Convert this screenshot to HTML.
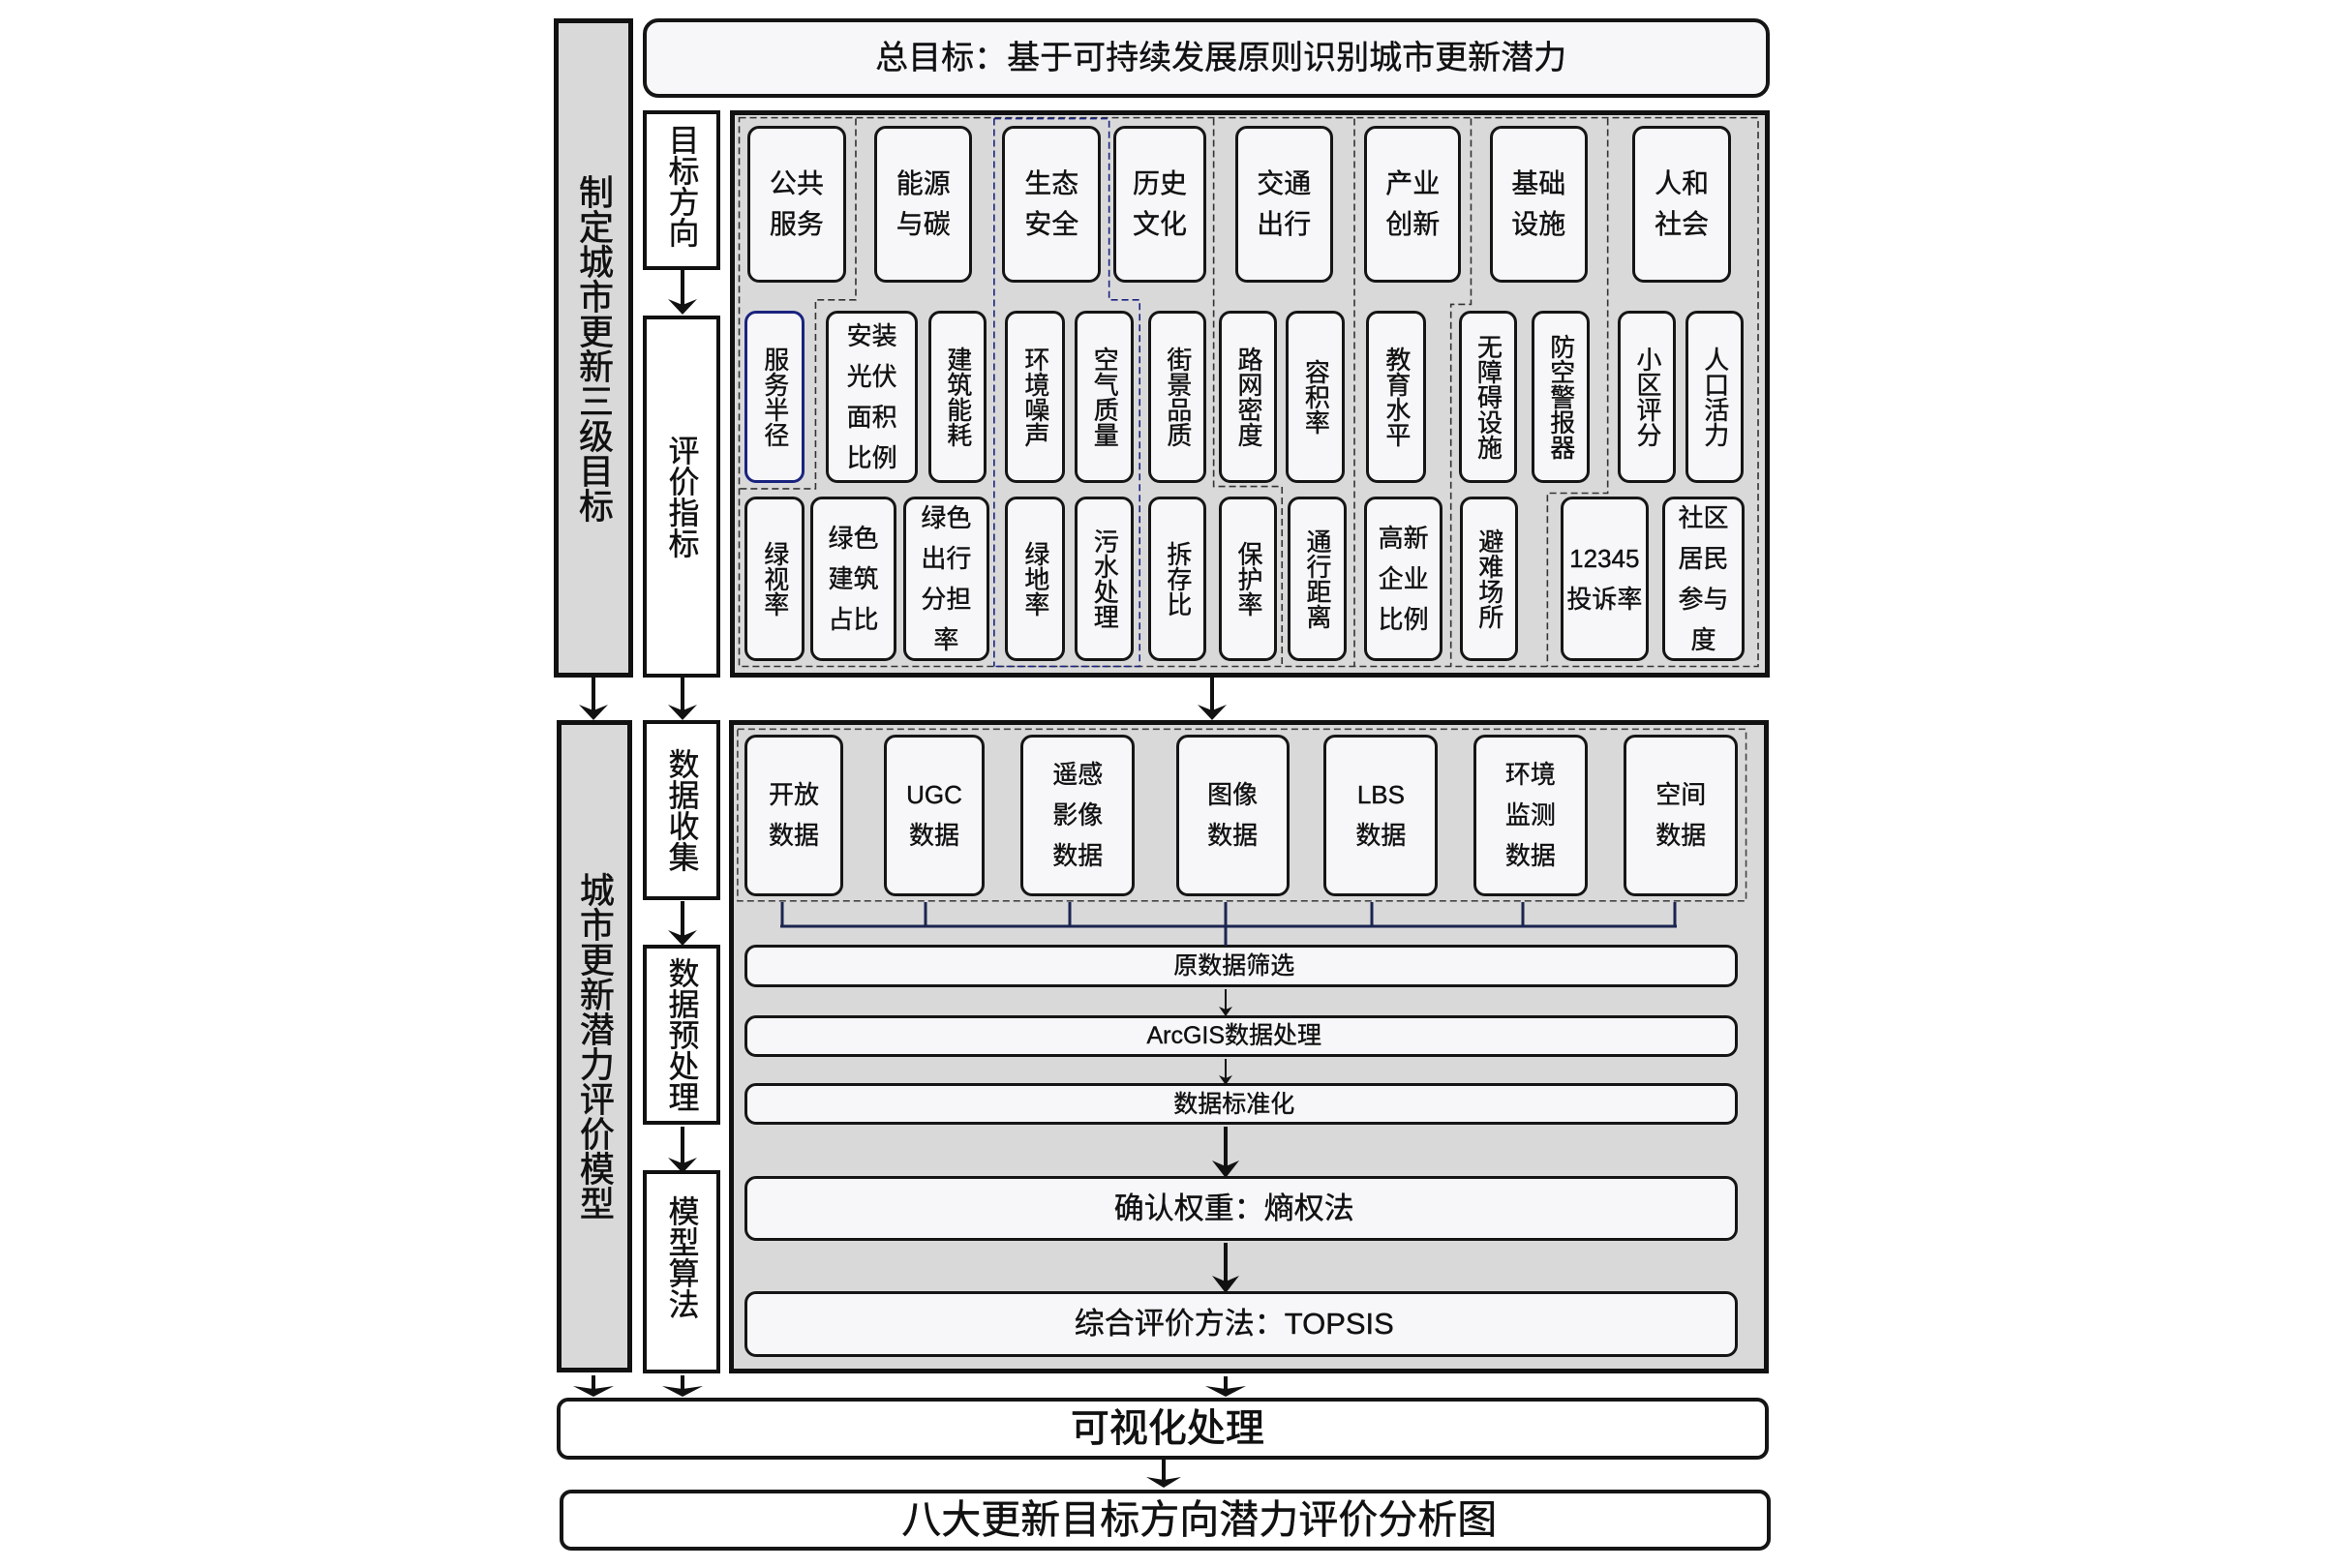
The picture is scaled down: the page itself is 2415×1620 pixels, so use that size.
<!DOCTYPE html>
<html><head><meta charset="utf-8"><style>
html,body{margin:0;padding:0;background:#fff;}
body{width:2415px;height:1620px;position:relative;overflow:hidden;font-family:"Liberation Sans","Noto Sans CJK SC",sans-serif;color:#111;}
.a{position:absolute;box-sizing:border-box;display:flex;align-items:center;justify-content:center;text-align:center;
 left:calc(560px + var(--x1)*0.8307px);width:calc((var(--x2) - var(--x1))*0.8307px);}
.t{top:calc(var(--y1)*0.459px);height:calc((var(--y2) - var(--y1))*0.459px);}
.b{top:calc(720px + var(--y1)*0.5745px);height:calc((var(--y2) - var(--y1))*0.5745px);}
.bx{border:3px solid #151515;border-radius:12px;background:#f7f7f9;font-size:26px;line-height:42px;-webkit-text-stroke:0.4px #111;}
.v{writing-mode:vertical-rl;text-orientation:upright;line-height:1.05;}
.top{font-size:28px;line-height:42px;}
.panel{border:5px solid #111;background:#d9d9d9;}
.sq{border:4px solid #111;background:#fff;}
</style></head><body>

<div class="a t panel" style="--x1:15;--x2:113;--y1:42;--y2:1525;font-size:36px;-webkit-text-stroke:0.6px #111;"><span class="v">制定城市更新三级目标</span></div>
<div class="a b panel" style="--x1:18;--x2:112;--y1:42;--y2:1215;font-size:36px;-webkit-text-stroke:0.6px #111;"><span class="v">城市更新潜力评价模型</span></div>

<div class="a t bx" style="--x1:125;--x2:1527;--y1:42;--y2:220;font-size:34px;border-width:4px;border-radius:16px;"><span style="margin-left:30px">总目标：基于可持续发展原则识别城市更新潜力</span></div>

<div class="a t sq" style="--x1:125;--x2:221;--y1:248;--y2:607;font-size:32px;align-items:flex-start;padding-top:10px;-webkit-text-stroke:0.4px #111;"><span class="v">目标方向</span></div>
<div class="a t sq" style="--x1:125;--x2:221;--y1:710;--y2:1525;font-size:32px;-webkit-text-stroke:0.4px #111;"><span class="v">评价指标</span></div>
<div class="a b sq" style="--x1:125;--x2:221;--y1:42;--y2:365;font-size:32px;-webkit-text-stroke:0.4px #111;"><span class="v">数据收集</span></div>
<div class="a b sq" style="--x1:125;--x2:221;--y1:445;--y2:770;font-size:32px;-webkit-text-stroke:0.4px #111;"><span class="v">数据预处理</span></div>
<div class="a b sq" style="--x1:125;--x2:221;--y1:852;--y2:1217;font-size:32px;align-items:flex-start;padding-top:22px;-webkit-text-stroke:0.4px #111;"><span class="v">模型算法</span></div>

<div class="a t panel" style="--x1:234;--x2:1527;--y1:248;--y2:1525;"></div>
<div class="a b panel" style="--x1:232;--x2:1525;--y1:42;--y2:1217;"></div>

<svg style="position:absolute;left:0;top:0" width="2415" height="1620">
<g transform="translate(560 0) scale(0.8307 0.459)" fill="none" stroke-width="1.6" stroke-dasharray="7 4">
<rect x="245" y="265" width="1267" height="1235" stroke="#333" vector-effect="non-scaling-stroke"/>
<polyline points="390,267 390,675 340,675 340,1100 245,1100" stroke="#333" vector-effect="non-scaling-stroke"/>
<polyline points="562,267 562,1500" stroke="#1a237e" vector-effect="non-scaling-stroke"/>
<polyline points="562,267 705,267 705,675 743,675 743,1500 562,1500" stroke="#1a237e" vector-effect="non-scaling-stroke"/>
<polyline points="835,267 835,1095 920,1095 920,1500" stroke="#333" vector-effect="non-scaling-stroke"/>
<polyline points="1010,267 1010,1500" stroke="#333" vector-effect="non-scaling-stroke"/>
<polyline points="1155,267 1155,685 1130,685 1130,1500" stroke="#333" vector-effect="non-scaling-stroke"/>
<polyline points="1325,267 1325,1110 1250,1110 1250,1500" stroke="#333" vector-effect="non-scaling-stroke"/>
</g>
<g transform="translate(560 720) scale(0.8307 0.5745)" fill="none">
<rect x="243" y="58" width="1254" height="309" stroke="#444" stroke-width="1.6" stroke-dasharray="7 4" vector-effect="non-scaling-stroke"/>
</g>
</svg>

<div class="a t bx top" style="--x1:255;--x2:378;--y1:283;--y2:636;">公共<br>服务</div>
<div class="a t bx top" style="--x1:413;--x2:535;--y1:283;--y2:636;">能源<br>与碳</div>
<div class="a t bx top" style="--x1:572;--x2:695;--y1:283;--y2:636;">生态<br>安全</div>
<div class="a t bx top" style="--x1:710;--x2:826;--y1:283;--y2:636;">历史<br>文化</div>
<div class="a t bx top" style="--x1:862;--x2:983;--y1:283;--y2:636;">交通<br>出行</div>
<div class="a t bx top" style="--x1:1022;--x2:1143;--y1:283;--y2:636;">产业<br>创新</div>
<div class="a t bx top" style="--x1:1178;--x2:1300;--y1:283;--y2:636;">基础<br>设施</div>
<div class="a t bx top" style="--x1:1356;--x2:1478;--y1:283;--y2:636;">人和<br>社会</div>

<div class="a t bx" style="--x1:252;--x2:326;--y1:700;--y2:1088;border-color:#1a237e;"><span class="v">服务半径</span></div>
<div class="a t bx" style="--x1:353;--x2:467;--y1:700;--y2:1088;">安装<br>光伏<br>面积<br>比例</div>
<div class="a t bx" style="--x1:480;--x2:553;--y1:700;--y2:1088;"><span class="v">建筑能耗</span></div>
<div class="a t bx" style="--x1:576;--x2:650;--y1:700;--y2:1088;"><span class="v">环境噪声</span></div>
<div class="a t bx" style="--x1:662;--x2:736;--y1:700;--y2:1088;"><span class="v">空气质量</span></div>
<div class="a t bx" style="--x1:754;--x2:826;--y1:700;--y2:1088;"><span class="v">街景品质</span></div>
<div class="a t bx" style="--x1:842;--x2:914;--y1:700;--y2:1088;"><span class="v">路网密度</span></div>
<div class="a t bx" style="--x1:925;--x2:998;--y1:700;--y2:1088;"><span class="v">容积率</span></div>
<div class="a t bx" style="--x1:1025;--x2:1099;--y1:700;--y2:1088;"><span class="v">教育水平</span></div>
<div class="a t bx" style="--x1:1140;--x2:1212;--y1:700;--y2:1088;"><span class="v">无障碍设施</span></div>
<div class="a t bx" style="--x1:1230;--x2:1303;--y1:700;--y2:1088;"><span class="v">防空警报器</span></div>
<div class="a t bx" style="--x1:1338;--x2:1410;--y1:700;--y2:1088;"><span class="v">小区评分</span></div>
<div class="a t bx" style="--x1:1422;--x2:1494;--y1:700;--y2:1088;"><span class="v">人口活力</span></div>

<div class="a t bx" style="--x1:252;--x2:326;--y1:1118;--y2:1488;"><span class="v">绿视率</span></div>
<div class="a t bx" style="--x1:333;--x2:441;--y1:1118;--y2:1488;">绿色<br>建筑<br>占比</div>
<div class="a t bx" style="--x1:449;--x2:556;--y1:1118;--y2:1488;">绿色<br>出行<br>分担<br>率</div>
<div class="a t bx" style="--x1:576;--x2:650;--y1:1118;--y2:1488;"><span class="v">绿地率</span></div>
<div class="a t bx" style="--x1:662;--x2:736;--y1:1118;--y2:1488;"><span class="v">污水处理</span></div>
<div class="a t bx" style="--x1:754;--x2:826;--y1:1118;--y2:1488;"><span class="v">拆存比</span></div>
<div class="a t bx" style="--x1:842;--x2:914;--y1:1118;--y2:1488;"><span class="v">保护率</span></div>
<div class="a t bx" style="--x1:927;--x2:1000;--y1:1118;--y2:1488;"><span class="v">通行距离</span></div>
<div class="a t bx" style="--x1:1022;--x2:1120;--y1:1118;--y2:1488;">高新<br>企业<br>比例</div>
<div class="a t bx" style="--x1:1141;--x2:1214;--y1:1118;--y2:1488;"><span class="v">避难场所</span></div>
<div class="a t bx" style="--x1:1266;--x2:1376;--y1:1118;--y2:1488;">12345<br>投诉率</div>
<div class="a t bx" style="--x1:1393;--x2:1495;--y1:1118;--y2:1488;">社区<br>居民<br>参与<br>度</div>

<div class="a b bx" style="--x1:252;--x2:374;--y1:68;--y2:358;">开放<br>数据</div>
<div class="a b bx" style="--x1:425;--x2:550;--y1:68;--y2:358;">UGC<br>数据</div>
<div class="a b bx" style="--x1:595;--x2:737;--y1:68;--y2:358;">遥感<br>影像<br>数据</div>
<div class="a b bx" style="--x1:788;--x2:929;--y1:68;--y2:358;">图像<br>数据</div>
<div class="a b bx" style="--x1:972;--x2:1114;--y1:68;--y2:358;">LBS<br>数据</div>
<div class="a b bx" style="--x1:1158;--x2:1300;--y1:68;--y2:358;">环境<br>监测<br>数据</div>
<div class="a b bx" style="--x1:1345;--x2:1487;--y1:68;--y2:358;">空间<br>数据</div>

<div class="a b bx" style="--x1:252;--x2:1487;--y1:445;--y2:523;font-size:25px;"><span style="margin-left:-15px">原数据筛选</span></div>
<div class="a b bx" style="--x1:252;--x2:1487;--y1:572;--y2:648;font-size:25px;"><span style="margin-left:-15px">ArcGIS数据处理</span></div>
<div class="a b bx" style="--x1:252;--x2:1487;--y1:695;--y2:770;font-size:25px;"><span style="margin-left:-15px">数据标准化</span></div>
<div class="a b bx" style="--x1:252;--x2:1487;--y1:862;--y2:978;font-size:31px;"><span style="margin-left:-15px">确认权重：熵权法</span></div>
<div class="a b bx" style="--x1:252;--x2:1487;--y1:1068;--y2:1187;font-size:31px;"><span style="margin-left:-15px">综合评价方法：TOPSIS</span></div>

<div class="a b bx" style="--x1:18;--x2:1525;--y1:1260;--y2:1372;font-size:40px;border-width:4px;background:#fff;-webkit-text-stroke:0.8px #111;"><span style="margin-left:10px">可视化处理</span></div>
<div class="a b bx" style="--x1:22;--x2:1528;--y1:1425;--y2:1535;font-size:41px;border-width:4px;background:#fff;-webkit-text-stroke:0.5px #111;"><span style="margin-left:70px">八大更新目标方向潜力评价分析图</span></div>

<svg style="position:absolute;left:0;top:0" width="2415" height="1620">
<g stroke="#111" fill="none" stroke-width="4">
<line x1="705" y1="279" x2="705" y2="318"/>
<line x1="613" y1="700" x2="613" y2="738"/>
<line x1="705" y1="700" x2="705" y2="738"/>
<line x1="1252" y1="700" x2="1252" y2="738"/>
<line x1="705" y1="931" x2="705" y2="971"/>
<line x1="705" y1="1164" x2="705" y2="1206"/>
<line x1="613" y1="1421" x2="613" y2="1438"/>
<line x1="705" y1="1421" x2="705" y2="1438"/>
<line x1="1266" y1="1422" x2="1266" y2="1438"/>
<line x1="1202" y1="1508" x2="1202" y2="1531"/>
<line x1="1266" y1="1164" x2="1266" y2="1210"/>
<line x1="1266" y1="1284" x2="1266" y2="1330"/>
<line x1="1266" y1="1022" x2="1266" y2="1045" stroke-width="2"/>
<line x1="1266" y1="1094" x2="1266" y2="1116" stroke-width="2"/>
</g>
<g fill="#111">
<path d="M705 325 L690 309 L705 315 L720 309 Z"/>
<path d="M613 744 L598 728 L613 734 L628 728 Z"/>
<path d="M705 744 L690 728 L705 734 L720 728 Z"/>
<path d="M1252 744 L1237 728 L1252 734 L1267 728 Z"/>
<path d="M705 977 L690 961 L705 967 L720 961 Z"/>
<path d="M705 1212 L690 1196 L705 1202 L720 1196 Z"/>
<path d="M613 1443 L592 1432 L613 1435 L634 1432 Z"/>
<path d="M705 1443 L684 1432 L705 1435 L726 1432 Z"/>
<path d="M1266 1443 L1245 1432 L1266 1435 L1287 1432 Z"/>
<path d="M1202 1537 L1184 1526 L1202 1529 L1220 1526 Z"/>
<path d="M1266 1217 L1252 1199 L1266 1205 L1280 1199 Z"/>
<path d="M1266 1336 L1252 1318 L1266 1324 L1280 1318 Z"/>
<path d="M1266 1050 L1259 1040 L1266 1043 L1273 1040 Z"/>
<path d="M1266 1121 L1259 1111 L1266 1114 L1273 1111 Z"/>
</g>
<g stroke="#1a2550" stroke-width="3" fill="none">
<line x1="808" y1="932" x2="808" y2="957"/>
<line x1="956" y1="932" x2="956" y2="957"/>
<line x1="1105" y1="932" x2="1105" y2="957"/>
<line x1="1266" y1="932" x2="1266" y2="977"/>
<line x1="1417" y1="932" x2="1417" y2="957"/>
<line x1="1573" y1="932" x2="1573" y2="957"/>
<line x1="1730" y1="932" x2="1730" y2="957"/>
<line x1="806" y1="957" x2="1732" y2="957"/>
</g>
</svg>
</body></html>
